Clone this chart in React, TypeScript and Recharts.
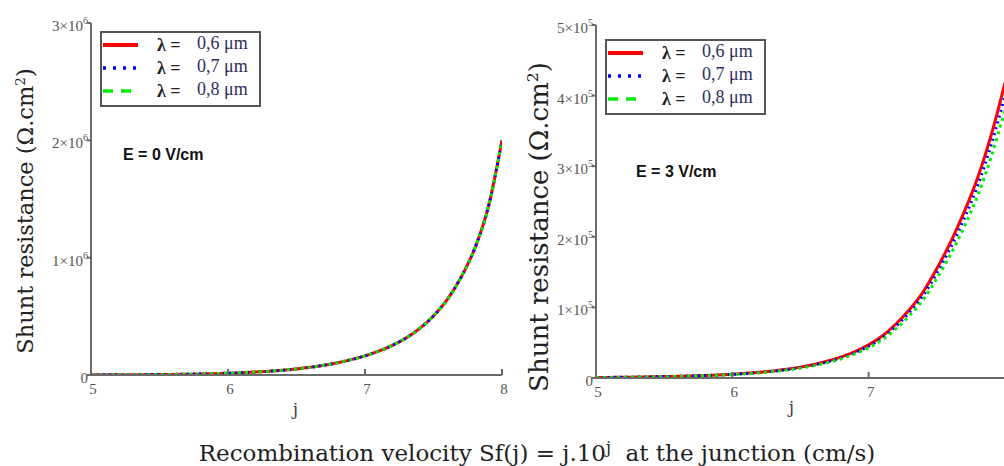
import React from "react";
import { LineChart, Line, XAxis, YAxis } from "recharts";

// j values (x axis), read every 0.1
const jValues = [
  5.0, 5.1, 5.2, 5.3, 5.4, 5.5, 5.6, 5.7, 5.8, 5.9, 6.0, 6.1, 6.2, 6.3, 6.4, 6.5,
  6.6, 6.7, 6.8, 6.9, 7.0, 7.1, 7.2, 7.3, 7.4, 7.5, 7.6, 7.7, 7.8, 7.9, 8.0,
];

// E = 0 V/cm : the three wavelengths coincide
const leftShunt = [
  1000, 1300, 1700, 2200, 2900, 3800, 5000, 6600, 8700, 11500, 15000, 19500,
  25000, 32000, 41000, 52000, 66000, 83000, 105000, 131000, 163000, 203000,
  253000, 315000, 398000, 503000, 642000, 830000, 1075000, 1430000, 2000000,
];

// E = 3 V/cm
const rightRed = [
  700, 850, 1050, 1300, 1600, 1950, 2400, 2950, 3600, 4400, 5400, 6600, 8100,
  10000, 12400, 15400, 19200, 24000, 30000, 37500, 47000, 59500, 76500, 97000,
  122000, 155000, 192000, 235000, 284000, 345000, 418000,
];
const rightBlue = [
  670, 815, 1010, 1250, 1540, 1870, 2300, 2830, 3460, 4220, 5180, 6340, 7780,
  9600, 11900, 14800, 18400, 23000, 28800, 36000, 45100, 57100, 73400, 93100,
  117100, 148800, 184300, 225600, 272600, 331200, 400000,
];
const rightGreen = [
  640, 775, 955, 1180, 1460, 1770, 2180, 2680, 3280, 4000, 4910, 6010, 7370,
  9100, 11300, 14000, 17500, 21800, 27300, 34100, 42800, 54100, 69600, 88300,
  111000, 141000, 174700, 213900, 258400, 314000, 380000,
];

const leftXTicks = [5, 6, 7, 8];
const rightXTicks = [5, 6, 7];
const leftYTicks = [0, 1000000, 2000000, 3000000];
const rightYTicks = [0, 100000, 200000, 300000, 400000, 500000];
const legendLabels = ["0,6 μm", "0,7 μm", "0,8 μm"];

const leftData = jValues.map((j, i) => ({
  j,
  red: leftShunt[i],
  blue: leftShunt[i],
  green: leftShunt[i],
}));
const rightData = jValues.map((j, i) => ({
  j,
  red: rightRed[i],
  blue: rightBlue[i],
  green: rightGreen[i],
}));

const AXIS = "#6a6a6a";
const SERIF = "'DejaVu Serif', serif";
const TIMES = "'Liberation Serif', 'Times New Roman', serif";

const BottomTick = (props: any) => {
  const { x, y, payload } = props;
  return (
    <g>
      <line x1={x} x2={x} y1={y} y2={y - 6} stroke={AXIS} strokeWidth={2} />
      <text x={x + 2} y={y + 19} textAnchor="middle" fontSize={15} fill="#555" fontFamily={TIMES}>
        {payload.value}
      </text>
    </g>
  );
};

const TopTick = (props: any) => {
  const { x, y } = props;
  return <line x1={x} x2={x} y1={y} y2={y + 5} stroke={AXIS} strokeWidth={2} />;
};

const RightTick = (props: any) => {
  const { x, y } = props;
  return <line x1={x} x2={x - 6} y1={y} y2={y} stroke={AXIS} strokeWidth={2} />;
};

const SciTick = (props: any) => {
  const { x, y, payload } = props;
  const v = payload.value as number;
  let body: React.ReactNode = "0";
  if (v !== 0) {
    const exp = Math.floor(Math.log10(v));
    const mant = Math.round(v / Math.pow(10, exp));
    body = (
      <>
        <tspan>{mant}×10</tspan>
        <tspan dy={-7} fontSize={10}>{exp}</tspan>
      </>
    );
  }
  return (
    <g>
      <line x1={x} x2={x - 4} y1={y} y2={y} stroke={AXIS} strokeWidth={2} />
      <text x={x - 3} y={y + 8} textAnchor="end" fontSize={15} fill="#555" fontFamily={TIMES}>
        {body}
      </text>
    </g>
  );
};

function Legend({ left, top }: { left: number; top: number }) {
  const samples = [
    { color: "#ff0000", dash: "none", w: 4 },
    { color: "#0000ff", dash: "3 7", w: 3.5 },
    { color: "#00ee00", dash: "10 8", w: 3.5 },
  ];
  return (
    <div
      style={{
        position: "absolute",
        left,
        top,
        width: 157,
        height: 72,
        border: "2px solid #555",
        background: "white",
      }}
    >
      {samples.map((s, i) => (
        <div key={i} style={{ position: "absolute", left: 0, top: 3 + i * 23, height: 22, width: 157 }}>
          <svg width={38} height={22} style={{ position: "absolute", left: 0, top: 0 }}>
            <line x1={1} x2={36} y1={9} y2={9} stroke={s.color} strokeWidth={s.w} strokeDasharray={s.dash} />
          </svg>
          <span
            style={{
              position: "absolute",
              left: 55,
              top: -1,
              fontFamily: TIMES,
              fontWeight: "bold",
              fontSize: 18,
              color: "#222",
            }}
          >
            λ =
          </span>
          <span
            style={{
              position: "absolute",
              left: 95,
              top: -3,
              fontFamily: TIMES,
              fontSize: 18,
              color: "#2e2e5a",
            }}
          >
            {legendLabels[i]}
          </span>
        </div>
      ))}
    </div>
  );
}

function Panel({ data, yMax, yTicks, xTicks, width, marginLeft, marginRight, top, bottom }: any) {
  return (
    <LineChart
      width={width}
      height={420}
      data={data}
      margin={{ top, right: marginRight, bottom, left: marginLeft }}
    >
      <XAxis
        xAxisId="b"
        dataKey="j"
        type="number"
        domain={[5, 8]}
        ticks={xTicks}
        allowDataOverflow
        height={30}
        tickSize={0}
        tickMargin={0}
        tickLine={false}
        axisLine={{ stroke: AXIS, strokeWidth: 2 }}
        tick={<BottomTick />}
        interval={0}
      />
      <XAxis
        xAxisId="t"
        orientation="top"
        dataKey="j"
        type="number"
        domain={[5, 8]}
        ticks={[6, 7]}
        allowDataOverflow
        height={0}
        tickSize={0}
        tickMargin={0}
        tickLine={false}
        axisLine={{ stroke: AXIS, strokeWidth: 2 }}
        tick={<TopTick />}
        interval={0}
      />
      <YAxis
        yAxisId="l"
        domain={[0, yMax]}
        ticks={yTicks}
        allowDataOverflow
        width={60}
        tickSize={0}
        tickMargin={0}
        tickLine={false}
        axisLine={{ stroke: AXIS, strokeWidth: 2 }}
        tick={<SciTick />}
        interval={0}
      />
      <YAxis
        yAxisId="r"
        orientation="right"
        domain={[0, yMax]}
        ticks={yTicks.slice(1, -1)}
        allowDataOverflow
        width={0}
        tickSize={0}
        tickMargin={0}
        tickLine={false}
        axisLine={{ stroke: AXIS, strokeWidth: 2 }}
        tick={<RightTick />}
        interval={0}
      />
      <Line xAxisId="b" yAxisId="l" type="monotone" dataKey="red" stroke="#ff0000" strokeWidth={3} dot={false} isAnimationActive={false} />
      <Line xAxisId="b" yAxisId="l" type="monotone" dataKey="blue" stroke="#0000ff" strokeWidth={3} strokeDasharray="2 4" dot={false} isAnimationActive={false} />
      <Line xAxisId="b" yAxisId="l" type="monotone" dataKey="green" stroke="#00ee00" strokeWidth={3} strokeDasharray="3 4" dot={false} isAnimationActive={false} />
    </LineChart>
  );
}

const yLabel = (
  <>
    Shunt resistance (Ω.cm<sup style={{ fontSize: "0.6em" }}>2</sup>)
  </>
);

export default function App() {
  return (
    <div
      style={{
        position: "absolute",
        left: 0,
        top: 0,
        width: 1004,
        height: 466,
        overflow: "hidden",
        background: "white",
      }}
    >
      {/* left panel: E = 0 V/cm */}
      <div style={{ position: "absolute", left: 0, top: 0 }}>
        <Panel data={leftData} yMax={3000000} yTicks={leftYTicks} xTicks={leftXTicks} width={520} marginLeft={31} marginRight={18} top={23} bottom={15} />
      </div>
      {/* right panel: E = 3 V/cm */}
      <div style={{ position: "absolute", left: 520, top: 0 }}>
        <Panel data={rightData} yMax={500000} yTicks={rightYTicks} xTicks={rightXTicks} width={490} marginLeft={16} marginRight={5} top={25} bottom={12} />
      </div>

      <Legend left={100} top={31} />
      <Legend left={605} top={39} />

      <div style={{ position: "absolute", left: 123, top: 146, fontFamily: "'Liberation Sans', Arial, sans-serif", fontWeight: "bold", fontSize: 16, color: "#111" }}>
        E = 0 V/cm
      </div>
      <div style={{ position: "absolute", left: 636, top: 163, fontFamily: "'Liberation Sans', Arial, sans-serif", fontWeight: "bold", fontSize: 16, color: "#111" }}>
        E = 3 V/cm
      </div>

      <div
        style={{
          position: "absolute",
          left: 25,
          top: 211,
          transform: "translate(-50%, -50%) rotate(-90deg)",
          whiteSpace: "nowrap",
          fontFamily: SERIF,
          fontSize: 22.5,
          color: "#222",
        }}
      >
        {yLabel}
      </div>
      <div
        style={{
          position: "absolute",
          left: 539,
          top: 227,
          transform: "translate(-50%, -50%) rotate(-90deg)",
          whiteSpace: "nowrap",
          fontFamily: SERIF,
          fontSize: 26,
          color: "#222",
        }}
      >
        {yLabel}
      </div>

      <div style={{ position: "absolute", left: 293, top: 400, fontFamily: SERIF, fontSize: 16, color: "#333" }}>j</div>
      <div style={{ position: "absolute", left: 789, top: 398, fontFamily: SERIF, fontSize: 16, color: "#333" }}>j</div>

      <div
        style={{
          position: "absolute",
          left: 537,
          top: 452,
          transform: "translate(-50%, -50%)",
          whiteSpace: "nowrap",
          fontFamily: SERIF,
          fontSize: 23,
          color: "#222",
        }}
      >
        Recombination velocity Sf(j) = j.10<sup style={{ fontSize: "0.7em" }}>j</sup>&nbsp; at the junction (cm/s)
      </div>
    </div>
  );
}
